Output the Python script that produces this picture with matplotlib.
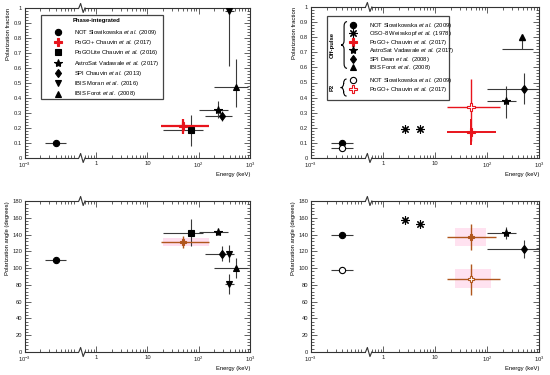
import numpy as np
import matplotlib
matplotlib.use('Agg')
import matplotlib.pyplot as plt
from matplotlib.lines import Line2D
from matplotlib.patches import Rectangle, PathPatch
from matplotlib.path import Path

plt.rcParams['font.family'] = ['Liberation Sans', 'DejaVu Sans']
plt.rcParams['mathtext.fontset'] = 'custom'
plt.rcParams['mathtext.rm'] = 'Liberation Sans'
plt.rcParams['mathtext.it'] = 'Liberation Sans:italic'
plt.rcParams['mathtext.bf'] = 'Liberation Sans:bold'

FS = 4.2
RED = '#e8141c'
BROWN = '#b0561c'
PINK = '#ff9fd0'
EC = '#3a3a3a'

# ---------------- data (energy in keV) ----------------
# Phase-integrated
pi_not_E, pi_not_Elo, pi_not_Ehi = [4.0e-3], [2.4e-3], [6.3e-3]
pi_not_pf, pi_not_pf_err = [0.10], [0.005]
pi_not_pa, pi_not_pa_err = [110], [1.5]

pi_pogo_E, pi_pogo_Elo, pi_pogo_Ehi = [50], [18], [160]
pi_pogo_pf, pi_pogo_pf_lo, pi_pogo_pf_hi = [0.21], [0.05], [0.05]
pi_pogo_pa, pi_pogo_pa_lo, pi_pogo_pa_hi = [131], [7], [7]
pi_pogo_band_E, pi_pogo_band_pa = [20, 160], [126, 136]

pi_lite_E, pi_lite_Elo, pi_lite_Ehi = [72], [20], [120]
pi_lite_pf, pi_lite_pf_lo, pi_lite_pf_hi = [0.185], [0.105], [0.10]
pi_lite_pa, pi_lite_pa_lo, pi_lite_pa_hi = [142], [16], [16]

pi_astro_E, pi_astro_Elo, pi_astro_Ehi = [240], [100], [380]
pi_astro_pf, pi_astro_pf_lo, pi_astro_pf_hi = [0.32], [0.055], [0.06]
pi_astro_pa, pi_astro_pa_lo, pi_astro_pa_hi = [143], [3], [3]

pi_spi_E, pi_spi_Elo, pi_spi_Ehi = [290], [130], [450]
pi_spi_pf, pi_spi_pf_lo, pi_spi_pf_hi = [0.28], [0.035], [0.035]
pi_spi_pa, pi_spi_pa_lo, pi_spi_pa_hi = [117], [9], [9]

pi_moran_E, pi_moran_Elo, pi_moran_Ehi = [390], [320], [480]
pi_moran_pf, pi_moran_pf_lo, pi_moran_pf_hi = [0.98], [0.37], [0.02]
pi_moran_paE = [390, 390]
pi_moran_pa, pi_moran_pa_err = [117, 81], [10, 12]

pi_forot_E, pi_forot_Elo, pi_forot_Ehi = [530], [200], [900]
pi_forot_pf, pi_forot_pf_lo, pi_forot_pf_hi = [0.47], [0.13], [0.19]
pi_forot_pa, pi_forot_pa_err = [100], [12]

# Off-pulse
op_not_pf, op_not_pa = [0.10], [140]
op_oso_E = [2.6, 5.2]
op_oso_pf, op_oso_pa = [0.19, 0.195], [157, 153]
op_pogo_E, op_pogo_Elo, op_pogo_Ehi = [48], [17], [150]
op_pogo_pf, op_pogo_pf_lo, op_pogo_pf_hi = [0.175], [0.09], [0.085]
op_pogo_pa, op_pogo_pa_err = [137], [15]
op_pogo_band_E, op_pogo_band_pa = [24, 95], [126, 148]
op_astro_E, op_astro_Elo, op_astro_Ehi = [236], [100], [365]
op_astro_pf, op_astro_pf_lo, op_astro_pf_hi = [0.377], [0.11], [0.10]
op_astro_pa, op_astro_pa_err = [142], [7]
op_spi_E, op_spi_Elo, op_spi_Ehi = [520], [100], [1000]
op_spi_pf, op_spi_pf_err = [0.46], [0.10]
op_spi_pa, op_spi_pa_err = [123], [11]
op_forot_E, op_forot_Elo, op_forot_Ehi = [475], [190], [775]
op_forot_pf_limit, op_forot_pf_marker = [0.72], [0.80]

# P2
p2_not_pf, p2_not_pa = [0.065], [98]
p2_pogo_E, p2_pogo_Elo, p2_pogo_Ehi = [50], [17], [180]
p2_pogo_pf, p2_pogo_pf_lo, p2_pogo_pf_hi = [0.335], [0.225], [0.19]
p2_pogo_pa, p2_pogo_pa_lo, p2_pogo_pa_hi = [87], [19], [18]
p2_pogo_band_E, p2_pogo_band_pa = [24, 120], [76, 99]

x_ticks = [1e-3, 1, 10, 100, 1000]
x_ticklabels = ['$10^{-3}$', '1', '10', '$10^{2}$', '$10^{3}$']

# ---------------- broken log axis ----------------
C_OFF = 1.61
PB1, PB2 = -0.33, -0.23
LB1, LB2 = PB1 - C_OFF, PB2


def fwd(E):
    E = np.asarray(E, float)
    l = np.log10(np.clip(E, 1e-30, None))
    mid = PB1 + (l - LB1) * (PB2 - PB1) / (LB2 - LB1)
    return np.where(l <= LB1, l + C_OFF, np.where(l >= LB2, l, mid))


def inv(p):
    p = np.clip(np.asarray(p, float), -50, 50)
    mid = LB1 + (p - PB1) * (LB2 - LB1) / (PB2 - PB1)
    l = np.where(p <= PB1, p - C_OFF, np.where(p >= PB2, p, mid))
    return 10 ** l


def setup(ax, ylim, ymaj, ymin, ylabel):
    ax.set_xscale('function', functions=(fwd, inv))
    ax.set_xlim(1e-3, 1e3)
    ax.set_ylim(*ylim)
    ax.set_xticks(x_ticks)
    ax.set_xticklabels(x_ticklabels)
    minors = [k * 1e-3 for k in range(2, 10)] + [k * 0.1 for k in range(6, 10)]
    minors += [k * d for d in (1, 10, 100) for k in range(2, 10)]
    ax.set_xticks(minors, minor=True)
    ax.set_yticks(np.arange(ylim[0], ylim[1] + 1e-9, ymaj))
    ax.set_yticks(np.arange(ylim[0], ylim[1] + 1e-9, ymin), minor=True)
    ax.tick_params(which='both', direction='in', top=True, right=True,
                   labelsize=FS, width=0.5, colors='#222222', pad=2)
    ax.tick_params(which='major', length=4)
    ax.tick_params(which='minor', length=2)
    for s in ax.spines.values():
        s.set_linewidth(0.8)
        s.set_color('#333333')
    ax.set_xlabel('Energy (keV)', fontsize=FS, loc='right', labelpad=1.5)
    ax.set_ylabel(ylabel, fontsize=FS, loc='top', labelpad=2)
    # break marks
    tr = ax.get_xaxis_transform()
    for yb in (0, 1):
        ax.add_patch(Rectangle((inv(PB1 - 0.005), yb - 0.03),
                               inv(PB2 + 0.005) - inv(PB1 - 0.005), 0.06,
                               transform=tr, facecolor='white', edgecolor='none',
                               clip_on=False, zorder=5))
        zx = inv(np.array([PB1 - 0.01, -0.305, -0.255, PB2 + 0.01]))
        ax.plot(zx, [yb, yb + 0.03, yb - 0.03, yb], transform=tr,
                color='#333333', lw=0.8, clip_on=False, zorder=6)


def eb(ax, E, Elo, Ehi, y, ylo, yhi, marker, color='k', ecolor=EC, lw=0.8,
       ms=4.5, mfc=None, mew=0.8, z=3):
    E = np.asarray(E, float)
    ax.errorbar(E, y, xerr=[E - np.asarray(Elo), np.asarray(Ehi) - E],
                yerr=[ylo, yhi], fmt='', marker=marker, linestyle='none',
                color=color, ecolor=ecolor,
                elinewidth=lw, ms=ms, mfc=color if mfc is None else mfc,
                mec=color, mew=mew, capsize=0, zorder=z)


def brace(ax, x, y0, y1, w):
    ym = 0.5 * (y0 + y1)
    d = 0.03
    verts = [(x + w, y1), (x + w / 2, y1), (x + w / 2, y1 - d),
             (x + w / 2, ym + d), (x + w / 2, ym), (x, ym),
             (x + w / 2, ym), (x + w / 2, ym - d),
             (x + w / 2, y0 + d), (x + w / 2, y0), (x + w, y0)]
    codes = [Path.MOVETO, Path.CURVE3, Path.CURVE3, Path.LINETO,
             Path.CURVE3, Path.CURVE3, Path.CURVE3, Path.CURVE3,
             Path.LINETO, Path.CURVE3, Path.CURVE3]
    ax.add_patch(PathPatch(Path(verts, codes), transform=ax.transAxes,
                           facecolor='none', edgecolor='k', lw=0.8, zorder=6))


def h(marker, color='k', mfc=None, ms=4.5):
    return Line2D([], [], marker=marker, linestyle='none', color=color,
                  mfc=color if mfc is None else mfc, mec=color, ms=ms, mew=0.8)


def lab(name, year):
    return name + r' $\mathit{et\ al.}$ (' + year + ')'


ASTER = (8, 2, 0)

fig = plt.figure(figsize=(5.5, 3.75), dpi=100)
ax1 = fig.add_axes([0.0455, 0.5787, 0.409, 0.40])
ax2 = fig.add_axes([0.5655, 0.5787, 0.4145, 0.4026])
ax3 = fig.add_axes([0.0455, 0.0613, 0.409, 0.4027])
ax4 = fig.add_axes([0.5655, 0.0613, 0.4145, 0.4027])

setup(ax1, (0, 1), 0.1, 0.02, 'Polarization fraction')
setup(ax2, (0, 1), 0.1, 0.02, 'Polarization fraction')
setup(ax3, (0, 180), 20, 4, 'Polarization angle (degrees)')
setup(ax4, (0, 180), 20, 4, 'Polarization angle (degrees)')
for a in (ax1, ax2):
    a.set_yticklabels(['0'] + ['%.1f' % v for v in np.arange(0.1, 0.95, 0.1)] + ['1'])

# ---------------- panel 1: phase-integrated fraction ----------------
eb(ax1, pi_not_E, pi_not_Elo, pi_not_Ehi, pi_not_pf, pi_not_pf_err, pi_not_pf_err, 'o')
eb(ax1, pi_lite_E, pi_lite_Elo, pi_lite_Ehi, pi_lite_pf, pi_lite_pf_lo, pi_lite_pf_hi, 's')
eb(ax1, pi_pogo_E, pi_pogo_Elo, pi_pogo_Ehi, pi_pogo_pf, pi_pogo_pf_lo, pi_pogo_pf_hi, 'P',
   color=RED, ecolor=RED, lw=1.6, ms=6, z=4)
eb(ax1, pi_astro_E, pi_astro_Elo, pi_astro_Ehi, pi_astro_pf, pi_astro_pf_lo, pi_astro_pf_hi, '*', ms=6)
eb(ax1, pi_spi_E, pi_spi_Elo, pi_spi_Ehi, pi_spi_pf, pi_spi_pf_lo, pi_spi_pf_hi, 'd')
eb(ax1, pi_moran_E, pi_moran_Elo, pi_moran_Ehi, pi_moran_pf, pi_moran_pf_lo, pi_moran_pf_hi, 'v')
eb(ax1, pi_forot_E, pi_forot_Elo, pi_forot_Ehi, pi_forot_pf, pi_forot_pf_lo, pi_forot_pf_hi, '^')

ax1.add_patch(Rectangle((0.070, 0.391), 0.543, 0.562, transform=ax1.transAxes,
                        facecolor='white', edgecolor='#444444', lw=0.9, zorder=5))
ax1.text(0.21, 0.918, 'Phase-integrated', transform=ax1.transAxes, fontsize=FS,
         fontweight='bold', va='center', ha='left', zorder=7)
leg1 = ax1.legend(
    [h('o'), h('P', RED, ms=6), h('s'), h('*', ms=6), h('d'), h('v'), h('^')],
    [lab('NOT Slowikowska', '2009'), lab('PoGO+ Chauvin', '2017'),
     lab('PoGOLite Chauvin', '2016'), lab('AstroSat Vadawale', '2017'),
     lab('SPI Chauvin', '2013'), lab('IBIS Moran', '2016'),
     lab('IBIS Forot', '2008')],
    loc='upper left', bbox_to_anchor=(0.135, 0.868), frameon=False, fontsize=FS,
    handlelength=1.0, handleheight=0.5, handletextpad=2.2, borderpad=0,
    borderaxespad=0, labelspacing=0.22)
leg1.set_zorder(7)

# ---------------- panel 2: off-pulse / P2 fraction ----------------
eb(ax2, pi_not_E, pi_not_Elo, pi_not_Ehi, op_not_pf, [0.005], [0.005], 'o')
eb(ax2, pi_not_E, pi_not_Elo, pi_not_Ehi, p2_not_pf, [0.005], [0.005], 'o', mfc='white')
eb(ax2, op_oso_E, op_oso_E, op_oso_E, op_oso_pf, [0.01, 0.01], [0.01, 0.01], ASTER, ms=6)
eb(ax2, op_pogo_E, op_pogo_Elo, op_pogo_Ehi, op_pogo_pf, op_pogo_pf_lo, op_pogo_pf_hi, 'P',
   color=RED, ecolor=RED, lw=1.4, ms=6, z=4)
eb(ax2, p2_pogo_E, p2_pogo_Elo, p2_pogo_Ehi, p2_pogo_pf, p2_pogo_pf_lo, p2_pogo_pf_hi, 'P',
   color=RED, ecolor=RED, lw=1.0, ms=6, mfc='white', z=4)
eb(ax2, op_astro_E, op_astro_Elo, op_astro_Ehi, op_astro_pf, op_astro_pf_lo, op_astro_pf_hi, '*', ms=6)
eb(ax2, op_spi_E, op_spi_Elo, op_spi_Ehi, op_spi_pf, op_spi_pf_err, op_spi_pf_err, 'd')
fE = np.asarray(op_forot_E, float)
ax2.errorbar(fE, op_forot_pf_limit, xerr=[fE - np.asarray(op_forot_Elo), np.asarray(op_forot_Ehi) - fE],
             fmt='none', ecolor=EC, elinewidth=0.8, capsize=0)
ax2.vlines(fE, op_forot_pf_limit, op_forot_pf_marker, color=EC, lw=0.8)
ax2.plot(fE, op_forot_pf_marker, '^', color='k', ms=4.5)

ax2.add_patch(Rectangle((0.070, 0.384), 0.535, 0.556, transform=ax2.transAxes,
                        facecolor='white', edgecolor='#444444', lw=0.9, zorder=5))
blank = Line2D([], [], linestyle='none')
leg2 = ax2.legend(
    [h('o'), h(ASTER, ms=6), h('P', RED, ms=6), h('*', ms=6), h('d'), h('^'), blank,
     h('o', mfc='white'), h('P', RED, mfc='white', ms=6)],
    [lab('NOT Slowikowska', '2009'), lab('OSO-8 Weisskopf', '1978'),
     lab('PoGO+ Chauvin', '2017'), lab('AstroSat Vadawale', '2017'),
     lab('SPI Dean', '2008'), lab('IBIS Forot', '2008'), ' ',
     lab('NOT Slowikowska', '2009'), lab('PoGO+ Chauvin', '2017')],
    loc='upper left', bbox_to_anchor=(0.172, 0.91), frameon=False, fontsize=FS,
    handlelength=1.0, handleheight=0.5, handletextpad=2.2, borderpad=0,
    borderaxespad=0, labelspacing=-0.08)
leg2.set_zorder(7)
brace(ax2, 0.132, 0.594, 0.903, 0.026)
brace(ax2, 0.130, 0.41, 0.523, 0.026)
ax2.text(0.093, 0.75, 'Off-pulse', transform=ax2.transAxes, rotation=90, fontsize=FS,
         fontweight='bold', ha='center', va='center', zorder=7)
ax2.text(0.093, 0.467, 'P2', transform=ax2.transAxes, rotation=90, fontsize=FS,
         fontweight='bold', ha='center', va='center', zorder=7)

# ---------------- panel 3: phase-integrated angle ----------------
ax3.axvspan(pi_pogo_band_E[0], pi_pogo_band_E[1], ymin=pi_pogo_band_pa[0] / 180,
            ymax=pi_pogo_band_pa[1] / 180, color=PINK, alpha=0.35, lw=0, zorder=1)
eb(ax3, pi_not_E, pi_not_Elo, pi_not_Ehi, pi_not_pa, pi_not_pa_err, pi_not_pa_err, 'o')
eb(ax3, pi_lite_E, pi_lite_Elo, pi_lite_Ehi, pi_lite_pa, pi_lite_pa_lo, pi_lite_pa_hi, 's')
eb(ax3, pi_pogo_E, pi_pogo_Elo, pi_pogo_Ehi, pi_pogo_pa, pi_pogo_pa_lo, pi_pogo_pa_hi, 'P',
   color=BROWN, ecolor=BROWN, lw=1.0, ms=5, z=4)
eb(ax3, pi_astro_E, pi_astro_Elo, pi_astro_Ehi, pi_astro_pa, pi_astro_pa_lo, pi_astro_pa_hi, '*', ms=6)
eb(ax3, pi_spi_E, pi_spi_Elo, pi_spi_Ehi, pi_spi_pa, pi_spi_pa_lo, pi_spi_pa_hi, 'd')
eb(ax3, pi_moran_paE, [pi_moran_Elo[0]] * 2, [pi_moran_Ehi[0]] * 2, pi_moran_pa,
   pi_moran_pa_err, pi_moran_pa_err, 'v')
eb(ax3, pi_forot_E, pi_forot_Elo, pi_forot_Ehi, pi_forot_pa, pi_forot_pa_err, pi_forot_pa_err, '^')

# ---------------- panel 4: off-pulse / P2 angle ----------------
for bE, bpa in ((op_pogo_band_E, op_pogo_band_pa), (p2_pogo_band_E, p2_pogo_band_pa)):
    ax4.axvspan(bE[0], bE[1], ymin=bpa[0] / 180, ymax=bpa[1] / 180,
                color=PINK, alpha=0.3, lw=0, zorder=1)
eb(ax4, pi_not_E, pi_not_Elo, pi_not_Ehi, op_not_pa, [1.5], [1.5], 'o')
eb(ax4, pi_not_E, pi_not_Elo, pi_not_Ehi, p2_not_pa, [1.5], [1.5], 'o', mfc='white')
eb(ax4, op_oso_E, op_oso_E, op_oso_E, op_oso_pa, [1, 1], [1, 1], ASTER, ms=6)
eb(ax4, op_pogo_E, op_pogo_Elo, op_pogo_Ehi, op_pogo_pa, op_pogo_pa_err, op_pogo_pa_err, 'P',
   color=BROWN, ecolor=BROWN, lw=1.0, ms=5, z=4)
eb(ax4, p2_pogo_E, p2_pogo_Elo, p2_pogo_Ehi, p2_pogo_pa, p2_pogo_pa_lo, p2_pogo_pa_hi, 'P',
   color=BROWN, ecolor=BROWN, lw=1.0, ms=5, mfc='white', z=4)
eb(ax4, op_astro_E, op_astro_Elo, op_astro_Ehi, op_astro_pa, op_astro_pa_err, op_astro_pa_err, '*', ms=6)
eb(ax4, op_spi_E, op_spi_Elo, op_spi_Ehi, op_spi_pa, op_spi_pa_err, op_spi_pa_err, 'd')

fig.savefig('out.png', dpi=100, facecolor='white')
